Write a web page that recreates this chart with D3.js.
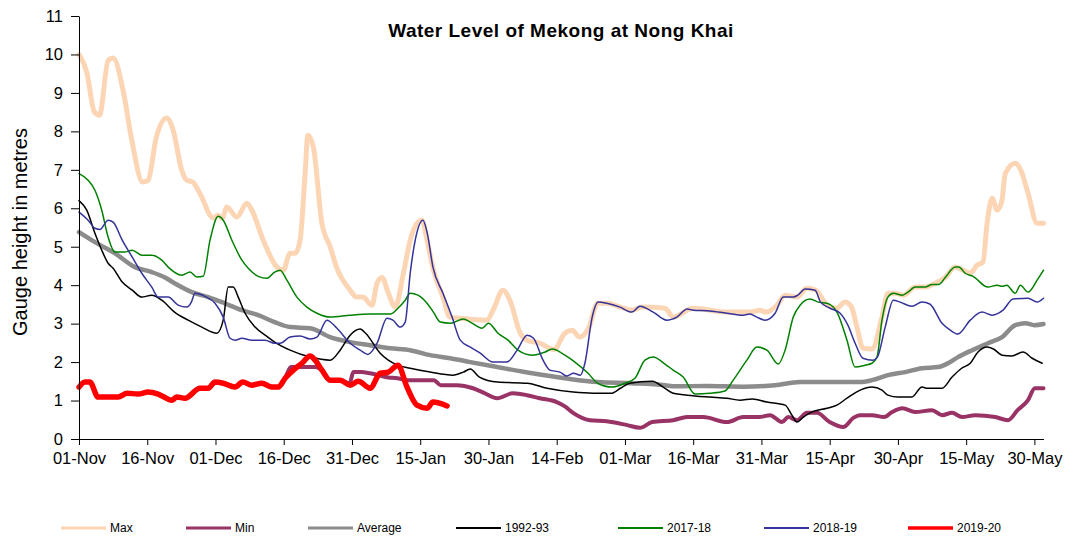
<!DOCTYPE html>
<html>
<head>
<meta charset="utf-8">
<script src="https://cdn.jsdelivr.net/npm/d3@7"></script>
<style>
  body { margin: 0; background: #fff; }
  svg { display: block; font-family: "Liberation Sans", Arial, sans-serif; }
  .axis path, .axis line { stroke: #000; stroke-width: 1; }
  .axis text { font-size: 16.5px; fill: #000; }
</style>
</head>
<body>
<div id="main"></div>
<script>
// tick labels on the category (day) axis, one every 15 days from 01-Nov
const tickLabels = ["01-Nov", "16-Nov", "01-Dec", "16-Dec", "31-Dec", "15-Jan", "30-Jan",
  "14-Feb", "01-Mar", "16-Mar", "31-Mar", "15-Apr", "30-Apr", "15-May", "30-May"];
const tickDays = tickLabels.map((d, i) => i * 15);
const yTicks = [0, 1, 2, 3, 4, 5, 6, 7, 8, 9, 10, 11];

// [day since 01-Nov, gauge height m]
const maxLevels = [[0,10.0],[1.7,9.54],[3.4,8.5],[4.5,8.42],[6.4,9.84],[7.5,9.91],[9.7,9.06],[11.6,7.77],[14,6.68],[15.2,6.73],[17,7.85],[19.3,8.35],[20.7,8.03],[22.6,6.98],[23.7,6.73],[25,6.68],[26.6,6.38],[29.5,5.75],[30.5,5.82],[31.5,5.74],[32.5,6.03],[34.7,5.77],[36.9,6.13],[38,5.95],[40.5,5.17],[43.5,4.47],[44.9,4.39],[46.4,4.83],[47.5,4.83],[48.6,5.17],[49.7,6.9],[50.3,7.9],[51.5,7.6],[53.4,5.6],[55.2,5.0],[56.6,4.47],[59.6,3.87],[61,3.69],[62.4,3.69],[64.4,3.48],[65.5,4.05],[66.6,4.2],[68,3.79],[69.5,3.43],[71.3,4.31],[72.8,5.17],[74.3,5.61],[75.4,5.69],[76.5,5.17],[77.9,4.39],[80,3.69],[81.5,3.17],[83.8,3.14],[89.7,3.09],[91,3.35],[93.2,3.87],[94.7,3.61],[97,2.75],[98.5,2.57],[101.3,2.49],[104.4,2.33],[106.8,2.75],[108.4,2.83],[110,2.65],[112,2.88],[114,3.53],[116,3.53],[119,3.43],[121.6,3.35],[123.8,3.43],[128.8,3.4],[130.6,3.17],[135,3.4],[142.4,3.3],[147.5,3.3],[149.7,3.35],[151,3.3],[153.4,3.48],[155.2,3.74],[157.8,3.69],[160,3.92],[162,3.87],[164.4,3.48],[166.5,3.4],[168.4,3.56],[169.8,3.43],[171,2.91],[172.3,2.36],[174.3,2.34],[176.5,3.17],[177.8,3.79],[179.5,3.79],[181.2,3.74],[183.8,3.95],[186,3.95],[188.2,4.05],[190.4,4.2],[192.6,4.47],[194.3,4.39],[195.9,4.31],[197.4,4.52],[198.7,4.6],[199.6,5.61],[200.7,6.26],[201.8,5.95],[202.8,6.16],[203.6,6.9],[205.8,7.17],[207,6.99],[208.6,6.39],[210.6,5.61],[212,5.61]];

const minLevels = [[0,1.35],[1.3,1.48],[2.4,1.48],[4.2,1.09],[8.6,1.09],[10.6,1.19],[13,1.17],[15.2,1.22],[17.4,1.17],[20.4,1.01],[21.5,1.09],[23.3,1.06],[26.6,1.32],[28.4,1.32],[29.9,1.48],[31.7,1.45],[34.3,1.35],[36,1.48],[38,1.4],[40.2,1.45],[42.4,1.35],[43.8,1.35],[45.3,1.58],[46.6,1.87],[52,1.87],[53.4,1.79],[55.2,1.53],[57.4,1.53],[59.5,1.45],[60.3,1.74],[62,1.74],[64,1.71],[68,1.6],[70,1.58],[72,1.53],[78,1.53],[79.5,1.4],[83,1.4],[86.6,1.32],[89,1.2],[91.9,1.06],[95.4,1.19],[98.5,1.14],[101.3,1.06],[105,0.96],[106.8,0.85],[108.6,0.68],[112.3,0.49],[116,0.46],[120.5,0.36],[123.3,0.29],[126,0.44],[130.6,0.49],[133.7,0.57],[137.2,0.57],[142.4,0.44],[146,0.57],[149.5,0.57],[151.9,0.62],[154.5,0.44],[155.9,0.57],[157.8,0.49],[160,0.68],[162.2,0.68],[165,0.44],[168,0.31],[170.2,0.55],[171.7,0.62],[174.3,0.62],[177,0.57],[178.7,0.7],[181,0.8],[183.8,0.7],[187.5,0.75],[189.7,0.62],[191.9,0.68],[194.1,0.57],[197,0.62],[201.4,0.57],[204.2,0.49],[206.3,0.75],[208.6,1.01],[210.1,1.32],[212,1.32]];

const avgLevels = [[0,5.38],[3.5,5.12],[7.9,4.83],[12.3,4.47],[16,4.34],[18.9,4.2],[21,4.05],[24.8,3.82],[28.4,3.69],[32,3.53],[35.8,3.35],[39.4,3.22],[43,3.04],[46.4,2.91],[50.8,2.88],[55.2,2.65],[59.6,2.52],[64,2.44],[68.4,2.36],[72.8,2.31],[77.2,2.18],[81.6,2.1],[86,2.0],[92,1.87],[99.6,1.71],[106.8,1.58],[114,1.48],[121.5,1.45],[128.8,1.4],[131,1.37],[138,1.38],[146,1.36],[153,1.4],[158.5,1.48],[165,1.48],[171.7,1.48],[174.3,1.53],[177.8,1.66],[181.6,1.74],[185.3,1.84],[188.8,1.87],[191,1.97],[193.2,2.13],[196.3,2.31],[199.8,2.49],[202.9,2.65],[205.8,2.96],[208,3.01],[210,2.96],[212,2.99]];

const levels1992 = [[0,6.2],[1.7,5.95],[3.5,5.35],[5,4.91],[6.4,4.57],[7.5,4.44],[9.5,4.08],[11.7,3.87],[13.8,3.69],[16,3.74],[18.2,3.61],[21,3.3],[24,3.09],[27,2.91],[30.3,2.75],[31.7,3.09],[32.8,3.95],[33.9,3.95],[35,3.69],[36.5,3.27],[38.7,2.91],[41.5,2.65],[43,2.52],[46.4,2.31],[50.8,2.13],[55.2,2.05],[57.4,2.31],[59.6,2.7],[61.8,2.86],[63,2.75],[66.2,2.23],[70,1.92],[72.8,1.84],[77.2,1.74],[82.2,1.66],[84.5,1.74],[86,1.82],[88,1.61],[92,1.48],[98.5,1.45],[102.9,1.32],[108.6,1.22],[113,1.19],[117,1.19],[119,1.32],[121,1.45],[126,1.5],[128.4,1.35],[130.6,1.19],[133.7,1.14],[138.7,1.09],[142.4,1.06],[145.3,1.01],[148,1.04],[151.2,0.96],[155.2,0.88],[156.7,0.62],[157.8,0.44],[159,0.55],[160.7,0.68],[164.4,0.8],[166.6,0.88],[168.8,1.06],[171.7,1.27],[174.3,1.35],[176.5,1.27],[177.8,1.14],[180,1.09],[183,1.09],[185.3,1.35],[186.5,1.32],[189.7,1.32],[191.9,1.61],[194,1.84],[195.9,1.97],[197.6,2.26],[199.6,2.39],[201,2.34],[202.9,2.18],[205,2.16],[207.5,2.26],[209.5,2.1],[211.7,1.97]];

const levels2017 = [[0,6.9],[2,6.73],[3.5,6.47],[5,5.95],[6.4,5.25],[7.9,4.86],[10,4.86],[11.7,4.91],[13.8,4.78],[16,4.78],[18.2,4.65],[19.6,4.47],[22.6,4.26],[24.4,4.34],[25.9,4.21],[27.3,4.23],[28.8,5.17],[30.6,5.79],[31.7,5.69],[33.6,5.17],[35.8,4.65],[37.2,4.44],[39.4,4.23],[41.3,4.18],[43,4.34],[44.2,4.39],[45.7,4.13],[47.9,3.69],[50.1,3.43],[52.3,3.27],[55.2,3.17],[59.6,3.22],[64,3.25],[68.4,3.25],[70.1,3.4],[71.7,3.61],[72.8,3.79],[74.5,3.74],[76.5,3.53],[77.9,3.3],[79.4,3.04],[81.6,3.01],[84.5,3.12],[86,3.04],[88.6,2.88],[90,3.01],[92.1,2.75],[94.3,2.57],[96.5,2.31],[99.6,2.18],[102.4,2.26],[104,2.34],[106.8,2.18],[109,2.0],[111.9,1.71],[114,1.45],[117.2,1.35],[120,1.45],[122.2,1.58],[124.4,2.05],[126.2,2.13],[128.8,1.95],[130.6,1.79],[132.8,1.61],[135.4,1.17],[138.7,1.19],[142,1.25],[143.8,1.53],[146.8,2.05],[149,2.39],[151.2,2.31],[153.7,1.95],[155.2,2.31],[157,3.17],[158.5,3.48],[160.7,3.64],[162.5,3.56],[164.4,3.53],[166.6,3.3],[168.8,2.57],[170.6,1.87],[172.8,1.92],[174.3,1.97],[175.4,2.13],[176.5,3.09],[177.8,3.69],[179,3.79],[181,3.74],[182.2,3.82],[183.8,3.95],[186,3.95],[187.5,4.02],[189,4.02],[190.4,4.2],[192.6,4.47],[193.4,4.47],[194.8,4.31],[196.5,4.23],[199.8,3.95],[201.8,4.0],[202.9,3.97],[203.9,4.0],[205.8,3.79],[206.9,4.0],[208.6,3.82],[210.6,4.13],[212,4.39]];

const levels2018 = [[0,5.9],[2,5.69],[3.5,5.48],[4.6,5.45],[6.4,5.69],[7.5,5.64],[9.5,5.17],[11.7,4.73],[13.8,4.31],[16,3.95],[17.4,3.69],[19.6,3.69],[21.8,3.48],[23.7,3.43],[24.7,3.56],[25.5,3.79],[27.7,3.71],[29.9,3.53],[31.7,3.17],[33.2,2.62],[34.3,2.57],[35.8,2.62],[38,2.57],[40.9,2.57],[43,2.49],[44.2,2.49],[46.4,2.65],[48.6,2.68],[50.8,2.6],[52.3,2.65],[54.5,3.09],[56.7,2.88],[59.6,2.49],[61.8,2.31],[63.5,2.2],[65.5,2.49],[67.7,3.14],[69,3.09],[70.6,2.91],[71.7,3.04],[72.8,4.31],[73.9,5.17],[75.6,5.69],[76.5,5.38],[77.8,4.47],[80,3.79],[82,3.17],[83.8,2.57],[86,2.39],[88.2,2.23],[91,2.0],[94,2.0],[96.3,2.31],[98.5,2.7],[99.9,2.62],[102,2.05],[103.5,1.79],[105.7,1.74],[107.2,1.64],[108.7,1.71],[110.2,1.66],[111.2,1.97],[112.8,3.17],[114.1,3.56],[116,3.53],[118.9,3.43],[121.5,3.3],[123.3,3.45],[126.2,3.3],[129.2,3.09],[131.4,3.17],[133.7,3.38],[135,3.35],[138.7,3.33],[142.4,3.27],[146,3.22],[147.5,3.25],[149,3.17],[150.8,3.09],[153,3.27],[154.8,3.69],[157,3.69],[158,3.74],[159.6,3.9],[161.8,3.87],[163,3.56],[165.1,3.4],[167.3,3.27],[169,2.96],[170.6,2.49],[172.3,2.1],[174.5,2.05],[175.5,2.13],[177.2,2.91],[179,3.61],[180.5,3.56],[183.1,3.45],[185.3,3.56],[187,3.51],[189.7,3.01],[191.5,2.83],[193.2,2.73],[195.9,3.09],[198.5,3.3],[200.7,3.22],[203.1,3.35],[205.3,3.64],[208.6,3.66],[210.6,3.56],[212,3.66]];

const levels2019 = [[0,1.35],[1.3,1.48],[2.4,1.48],[4.2,1.09],[6.4,1.09],[8.6,1.09],[10.6,1.19],[13,1.17],[15.2,1.22],[17.4,1.17],[20.4,1.01],[21.5,1.09],[23.3,1.06],[26.6,1.32],[28.4,1.32],[29.9,1.48],[31.7,1.45],[34.3,1.35],[36,1.48],[38,1.4],[40.2,1.45],[42.4,1.35],[43.8,1.35],[45.3,1.58],[47.1,1.79],[49,1.97],[50.8,2.16],[51.9,2.05],[53.4,1.79],[55.2,1.53],[57.4,1.53],[59.6,1.4],[61.4,1.5],[64,1.32],[66.2,1.71],[68,1.74],[70.1,1.92],[72.1,1.35],[74.3,0.88],[76.5,0.8],[77.8,0.96],[80.9,0.86]];

const seriesNames = ["Max", "Min", "Average", "1992-93", "2017-18", "2018-19", "2019-20"];
const seriesData = [maxLevels, minLevels, avgLevels, levels1992, levels2017, levels2018, levels2019];

// styles
const seriesColors = ["#FCD5B5", "#993366", "#8C8C8C", "#000000", "#008000", "#333399", "#FF0000"];
const seriesWidths = [5, 4, 4.5, 1.5, 1.5, 1.5, 5.5];
const legendWidths = [3, 3, 3, 2, 2, 2, 3.5];
const legendX = [61, 186, 308, 456, 618, 764, 908];

const width = 1076, height = 538;
const svg = d3.select("#main").append("svg").attr("width", width).attr("height", height);

const x = d3.scaleLinear().domain([0, 212]).range([79, 1043.5]);
const y = d3.scaleLinear().domain([0, 11]).range([439, 16]);

// title
svg.append("text")
  .attr("x", 561).attr("y", 37)
  .attr("text-anchor", "middle")
  .style("font-size", "19px").style("font-weight", "bold")
  .style("letter-spacing", "0.5px")
  .text("Water Level of Mekong at Nong Khai");

// y label
svg.append("text")
  .attr("transform", "translate(27,232) rotate(-90)")
  .attr("text-anchor", "middle")
  .style("font-size", "20px")
  .text("Gauge height in metres");

// lines
const line = d3.line()
  .x(d => x(d[0]))
  .y(d => y(d[1]))
  .curve(d3.curveMonotoneX);

svg.append("g").selectAll("path")
  .data(seriesData)
  .enter().append("path")
  .attr("fill", "none")
  .attr("stroke", (d, i) => seriesColors[i])
  .attr("stroke-width", (d, i) => seriesWidths[i])
  .attr("stroke-linejoin", "round")
  .attr("stroke-linecap", "round")
  .attr("d", line);

// axes
const xAxis = d3.axisBottom(x)
  .tickValues(tickDays)
  .tickFormat((d, i) => tickLabels[i])
  .tickSize(6).tickSizeOuter(0).tickPadding(7);
svg.append("g").attr("class", "axis")
  .attr("transform", "translate(0," + y(0) + ")")
  .call(xAxis);

const yAxis = d3.axisLeft(y)
  .tickValues(yTicks)
  .tickSize(8).tickSizeOuter(0).tickPadding(8);
svg.append("g").attr("class", "axis")
  .attr("transform", "translate(" + x(0) + ",0)")
  .call(yAxis);

// legend
const legend = svg.append("g").attr("transform", "translate(0,528)");
const item = legend.selectAll("g")
  .data(seriesNames)
  .enter().append("g")
  .attr("transform", (d, i) => "translate(" + legendX[i] + ",0)");
item.append("line")
  .attr("x1", 0).attr("x2", 45)
  .attr("stroke", (d, i) => seriesColors[i])
  .attr("stroke-width", (d, i) => legendWidths[i]);
item.append("text")
  .attr("x", 49).attr("dy", "0.35em")
  .style("font-size", "12px")
  .text(d => d);
</script>
</body>
</html>
